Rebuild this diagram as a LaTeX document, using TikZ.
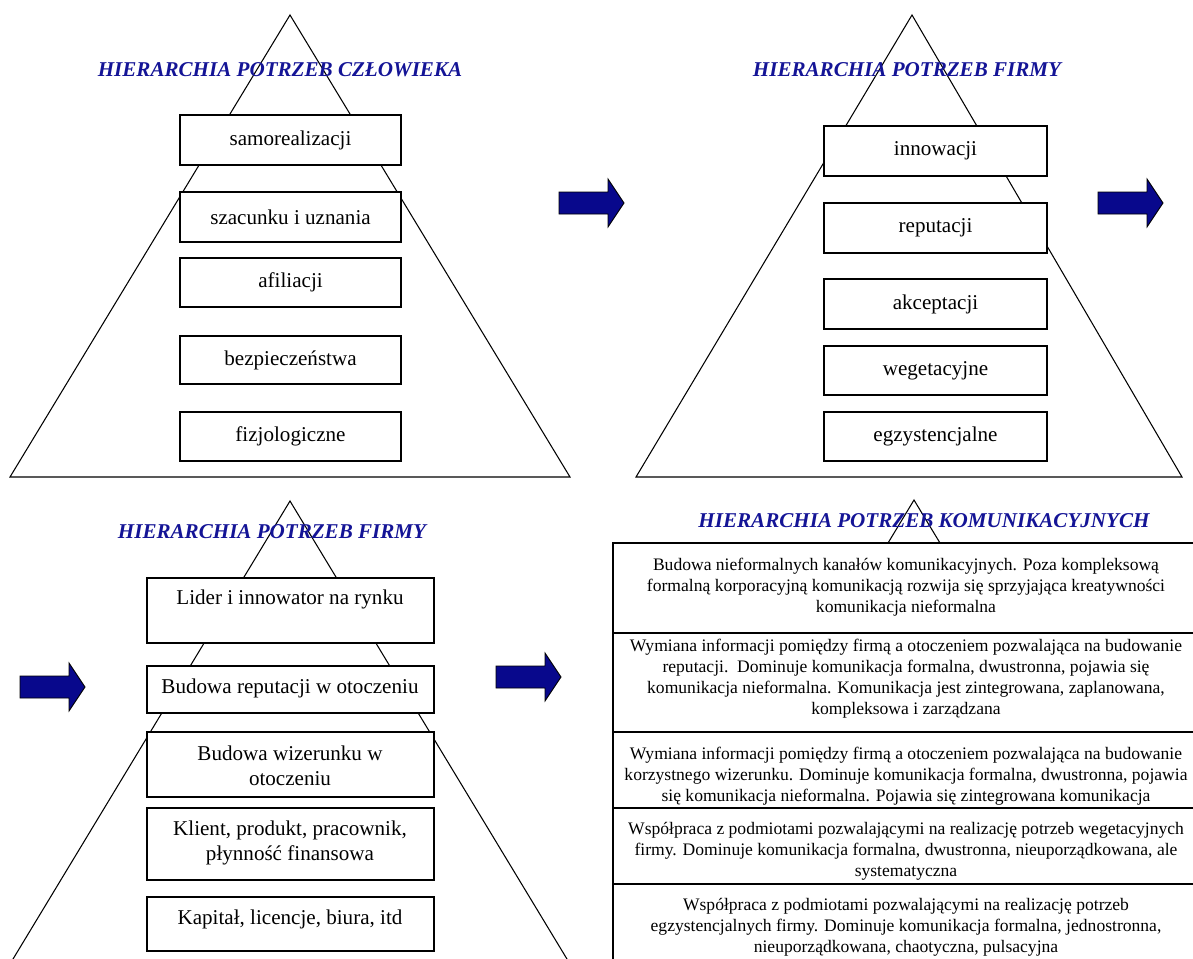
\documentclass[tikz,border=0pt]{standalone}
\usepackage{fontspec}
\setmainfont{Liberation Serif}
\usetikzlibrary{fit}
\definecolor{titleblue}{RGB}{20,20,150}
\definecolor{arrowblue}{RGB}{8,8,140}

\begin{document}
\begin{tikzpicture}[x=0.02cm,y=-0.02cm,
  edge/.style={line width=0.6pt},
  needbox/.style={draw, line width=1.1pt, fill=white, inner sep=0pt},
  needtext/.style={inner sep=0pt, align=center,
    font=\fontsize{12}{14.5}\selectfont},
  rowbox/.style={draw, line width=1pt, fill=white, inner sep=0pt},
  rowtext/.style={inner sep=0pt, align=center,
    font=\fontsize{10}{11.9}\selectfont},
  heading/.style={text=titleblue, inner sep=0pt,
    font=\fontsize{12}{14}\selectfont\bfseries\itshape},
  fatarrow/.style={draw=black, line width=0.5pt, fill=arrowblue},
  blockarrow/.pic={\path[fatarrow] (0,-11) -- (49,-11) -- (49,-24) -- (65,0)
    -- (49,24) -- (49,11) -- (0,11) -- cycle;},
]
\useasboundingbox (0,0) rectangle (1193,958);
\clip (0,0) rectangle (1193,958);

% --- pyramid outlines ---
\draw[edge] (290,15) -- (570,477) -- (10,477) -- cycle;
\draw[edge] (912,15) -- (1182,477) -- (636,477) -- cycle;
\draw[edge] (10,964) -- (290,501) -- (570,964);
\draw[edge] (888,543) -- (914,500) -- (940,543);

% --- headings ---
\node[heading] (t1) at (280,70) {HIERARCHIA POTRZEB CZŁOWIEKA};
\node[heading] (t2) at (907,70) {HIERARCHIA POTRZEB FIRMY};
\node[heading] (t3) at (272,532) {HIERARCHIA POTRZEB FIRMY};
\node[heading] (t4) at (924,521) {HIERARCHIA POTRZEB KOMUNIKACYJNYCH};

% --- human needs ---
\node[needbox, fit={(180,115) (401,165)}] (h1) {};
\node[needbox, fit={(180,192) (401,242)}] (h2) {};
\node[needbox, fit={(180,258) (401,307)}] (h3) {};
\node[needbox, fit={(180,336) (401,384)}] (h4) {};
\node[needbox, fit={(180,412) (401,461)}] (h5) {};
\node[needtext] (h1t) at (h1) {samorealizacji};
\node[needtext] (h2t) at (h2) {szacunku i uznania};
\node[needtext] (h3t) at (h3) {afiliacji};
\node[needtext] (h4t) at (h4) {bezpieczeństwa};
\node[needtext] (h5t) at (h5) {fizjologiczne};

% --- company needs ---
\node[needbox, fit={(824,126) (1047,176)}] (f1) {};
\node[needbox, fit={(824,203) (1047,253)}] (f2) {};
\node[needbox, fit={(824,279) (1047,329)}] (f3) {};
\node[needbox, fit={(824,346) (1047,395)}] (f4) {};
\node[needbox, fit={(824,412) (1047,461)}] (f5) {};
\node[needtext] (f1t) at (f1) {innowacji};
\node[needtext] (f2t) at (f2) {reputacji};
\node[needtext] (f3t) at (f3) {akceptacji};
\node[needtext] (f4t) at (f4) {wegetacyjne};
\node[needtext] (f5t) at (f5) {egzystencjalne};

% --- company needs, described ---
\node[needbox, fit={(147,578) (434,643)}] (d1) {};
\node[needbox, fit={(147,666) (434,713)}] (d2) {};
\node[needbox, fit={(147,732) (434,797)}] (d3) {};
\node[needbox, fit={(147,808) (434,880)}] (d4) {};
\node[needbox, fit={(147,897) (434,951)}] (d5) {};
\node[needtext] (d1t) at (290,599) {Lider i innowator na rynku};
\node[needtext] (d2t) at (290,688) {Budowa reputacji w otoczeniu};
\node[needtext] (d3t) at (290,766) {Budowa wizerunku w\\ otoczeniu};
\node[needtext] (d4t) at (290,843) {Klient, produkt, pracownik,\\ płynność finansowa};
\node[needtext] (d5t) at (290,919) {Kapitał, licencje, biura, itd};

% --- communication needs table ---
\node[rowbox, fit={(613,543) (1199,633)}] (c1) {};
\node[rowbox, fit={(613,633) (1199,732)}] (c2) {};
\node[rowbox, fit={(613,732) (1199,808)}] (c3) {};
\node[rowbox, fit={(613,808) (1199,884)}] (c4) {};
\node[rowbox, fit={(613,884) (1199,968)}] (c5) {};
\node[rowtext] (c1t) at (906,587) {Budowa nieformalnych kanałów komunikacyjnych. Poza kompleksową\\
  formalną korporacyjną komunikacją rozwija się sprzyjająca kreatywności\\
  komunikacja nieformalna};
\node[rowtext] (c2t) at (906,679) {Wymiana informacji pomiędzy firmą a otoczeniem pozwalająca na budowanie\\
  reputacji.\ \ Dominuje komunikacja formalna, dwustronna, pojawia się\\
  komunikacja nieformalna. Komunikacja jest zintegrowana, zaplanowana,\\
  kompleksowa i zarządzana};
\node[rowtext] (c3t) at (906,776) {Wymiana informacji pomiędzy firmą a otoczeniem pozwalająca na budowanie\\
  korzystnego wizerunku. Dominuje komunikacja formalna, dwustronna, pojawia\\
  się komunikacja nieformalna. Pojawia się zintegrowana komunikacja};
\node[rowtext] (c4t) at (906,851) {Współpraca z podmiotami pozwalającymi na realizację potrzeb wegetacyjnych\\
  firmy. Dominuje komunikacja formalna, dwustronna, nieuporządkowana, ale\\
  systematyczna};
\node[rowtext] (c5t) at (906,927) {Współpraca z podmiotami pozwalającymi na realizację potrzeb\\
  egzystencjalnych firmy. Dominuje komunikacja formalna, jednostronna,\\
  nieuporządkowana, chaotyczna, pulsacyjna};

% --- transition arrows ---
\pic (a1) at (559,203) {blockarrow};
\pic (a2) at (1098,203) {blockarrow};
\pic (a3) at (20,687) {blockarrow};
\pic (a4) at (496,677) {blockarrow};
\end{tikzpicture}
\end{document}
